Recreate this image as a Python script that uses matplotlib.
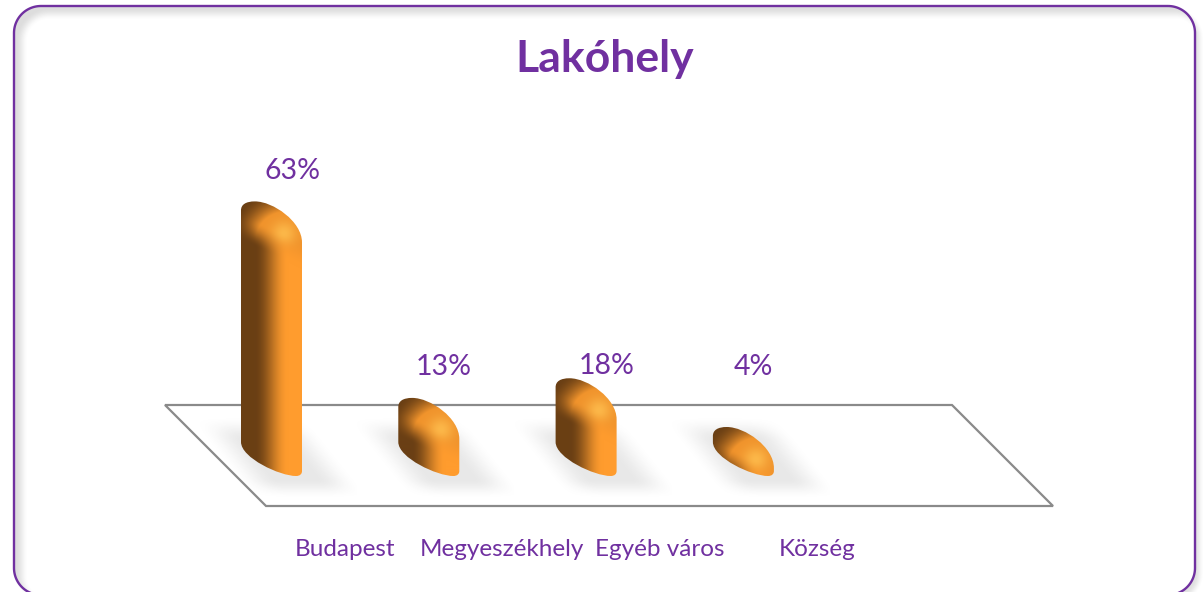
import numpy as np
import matplotlib
matplotlib.use("Agg")
import matplotlib.pyplot as plt
from matplotlib.patches import PathPatch, Polygon
from matplotlib.path import Path

title = "Lakóhely"
categories = ["Budapest", "Megyeszékhely", "Egyéb város", "Község"]
values = [63, 13, 18, 4]
value_labels = ["63%", "13%", "18%", "4%"]
label_px = [292, 444, 607, 753]
label_py = [171, 367, 366, 367]

W, H = 1203, 592
X0, DX, Y0, DY = 271.5, 157.3, 449.0, 3.93
PURPLE = "#7030a0"
FONT = ["Lato", "DejaVu Sans"]

fig = plt.figure(figsize=(W / 100, H / 100), dpi=100, facecolor="white")
ax = fig.add_axes([0, 0, 1, 1])
xlim = (-X0 / DX, (W - X0) / DX)
ylim = ((Y0 - H) / DY, Y0 / DY)
ax.axis("off")

def fx(px): return (np.asarray(px, float) - X0) / DX
def fy(py): return (Y0 - np.asarray(py, float)) / DY
def ppts(pts): return [(float(fx(a)), float(fy(b))) for a, b in pts]
def smooth(t):
    t = np.clip(t, 0, 1)
    return t * t * (3 - 2 * t)

# card: rounded rectangle with soft shadow
L, R, T, B, RAD = 14.0, 1195.0, 6.0, 595.0, 27.0
yy, xx = np.mgrid[0:H, 0:W] + 0.5
cx, cy = (L + R) / 2, (T + B) / 2

def rounded_sdf(dx, dy):
    qx = np.abs(xx - cx - dx) - ((R - L) / 2 - RAD)
    qy = np.abs(yy - cy - dy) - ((B - T) / 2 - RAD)
    return np.hypot(np.maximum(qx, 0), np.maximum(qy, 0)) + np.minimum(np.maximum(qx, qy), 0) - RAD

sdf = rounded_sdf(0, 0)
inner = smooth((rounded_sdf(8, 8) + 6) / 12) * (sdf < 0) * 0.24
outer = smooth((4 - rounded_sdf(5, 5)) / 9) * (sdf > 0) * 0.22
bg = np.ones((H, W, 4))
bg[..., :3] = 0.45
bg[..., 3] = np.maximum(inner, outer)
ext = (float(fx(0)), float(fx(W)), float(fy(H)), float(fy(0)))
ax.imshow(bg, extent=ext, origin="upper", aspect="auto", zorder=1, interpolation="bilinear")

# card outline drawn as a fine polyline so that the off-canvas edge clips cleanly
th = np.linspace(0, np.pi / 2, 30)
outline = []
outline += [(R - RAD + RAD * np.sin(t), T + RAD - RAD * np.cos(t)) for t in th]
outline += [(R - RAD + RAD * np.cos(t), B - RAD + RAD * np.sin(t)) for t in th]
outline += [(L + RAD - RAD * np.sin(t), B - RAD + RAD * np.cos(t)) for t in th]
outline += [(L + RAD - RAD * np.cos(t), T + RAD - RAD * np.sin(t)) for t in th]
ax.add_patch(Polygon(ppts(outline), closed=True, fc="none", ec=PURPLE, lw=1.7, zorder=2))

# floor
floor = ppts([(165, 405), (952, 405), (1053, 506), (266, 506)])
ax.add_patch(Polygon(floor, closed=True, fc="white", ec="#8a8a8a", lw=1.6, zorder=3))

DARK = np.array([0x6a, 0x3f, 0x14]) / 255
ORANGE = np.array([0xff, 0x9c, 0x2e]) / 255
GLOW = np.array([0xff, 0xc0, 0x50]) / 255

def bar_path(x0, x1, top, base_l, base_r):
    p = [(x0, base_l), (x0, top + 9),
         (x0, top + 3), (x0 + 5, top), (x0 + 14, top),
         (x0 + 32, top), (x1, top + 20), (x1, top + 41),
         (x1, base_r - 5),
         (x1, base_r - 2), (x1 - 2, base_r), (x1 - 6, base_r),
         (x1 - 22, base_r), (x0, base_l + 16), (x0, base_l)]
    c = [Path.MOVETO, Path.LINETO, Path.CURVE4, Path.CURVE4, Path.CURVE4,
         Path.CURVE4, Path.CURVE4, Path.CURVE4, Path.LINETO,
         Path.CURVE4, Path.CURVE4, Path.CURVE4,
         Path.CURVE4, Path.CURVE4, Path.CURVE4]
    return Path(ppts(p), c)

BAR_W = 61.0
BASE_L, BASE_R = 442.0, 476.0
MIN_CAP = 15.0  # the rounded bevel keeps a minimum height on small bars
for i, v in enumerate(values):
    cx_px = X0 + DX * i
    x0, x1 = cx_px - BAR_W / 2, cx_px + BAR_W / 2
    top = min(Y0 - DY * v, BASE_L - MIN_CAP)

    # soft floor shadow
    sx0, sx1, sy0, sy1 = x0 - 45, x1 + 55, BASE_L - 30, BASE_R + 24
    ys, xs = np.mgrid[sy0:sy1:1.0, sx0:sx1:1.0]
    skew = (xs - x0) - (ys - BASE_L) * 0.8
    edge = smooth((skew + 34) / 40) * smooth((BAR_W + 24 - skew) / 40)
    vert = smooth((ys - (BASE_L - 26)) / 24) * smooth((BASE_R + 22 - ys) / 20)
    sh = np.ones(xs.shape + (4,))
    sh[..., :3] = 0.55
    sh[..., 3] = edge * vert * 0.20
    ax.imshow(sh, extent=(float(fx(sx0)), float(fx(sx1)), float(fy(sy1)), float(fy(sy0))),
              origin="upper", aspect="auto", zorder=4, interpolation="bilinear")

    # shaded body
    iy0, iy1 = top - 1, BASE_R + 1
    ys, xs = np.mgrid[iy0:iy1:0.5, x0 - 1:x1 + 1:0.5]
    u = (xs - x0) / BAR_W
    dy = ys - top
    body_t = smooth((u - 0.22) / 0.55)[..., None]
    body = DARK + (ORANGE - DARK) * body_t
    d = np.hypot((u - 0.75) / 0.95, (dy - 38) / 52)
    cap_t = smooth(1.0 - d)[..., None]
    cap = DARK + (ORANGE - DARK) * np.clip(cap_t * 2.0, 0, 0.9)
    hl = np.exp(-(((u - 0.70) / 0.20) ** 2 + ((dy - 32) / 12) ** 2))[..., None]
    cap = cap + (GLOW - cap) * hl * 0.8
    w = smooth((26 + 28 * u - dy) / 26 + 0.5)[..., None]
    rgb = np.clip(body * (1 - w) + cap * w, 0, 1)
    im = ax.imshow(rgb, extent=(float(fx(x0 - 1)), float(fx(x1 + 1)), float(fy(iy1)), float(fy(iy0))),
                   origin="upper", aspect="auto", zorder=5, interpolation="bilinear")
    patch = PathPatch(bar_path(x0, x1, top, BASE_L, BASE_R), fc="none", ec="none", zorder=5)
    ax.add_patch(patch)
    im.set_clip_path(patch)

    ax.text(fx(label_px[i]), fy(label_py[i]), value_labels[i], ha="center", va="center",
            color=PURPLE, fontsize=20.5, family=FONT, zorder=7)

for i, c in enumerate(categories):
    ax.text(i + (345 - X0) / DX, fy(550), c, ha="center", va="center",
            color=PURPLE, fontsize=17.5, family=FONT, zorder=7)

ax.text(fx(605), fy(59), title, ha="center", va="center", color=PURPLE,
        fontsize=32, fontweight="bold", family=FONT, zorder=7)

ax.set_xlim(*xlim)
ax.set_ylim(*ylim)
fig.savefig("out.png", dpi=100, facecolor="white")
